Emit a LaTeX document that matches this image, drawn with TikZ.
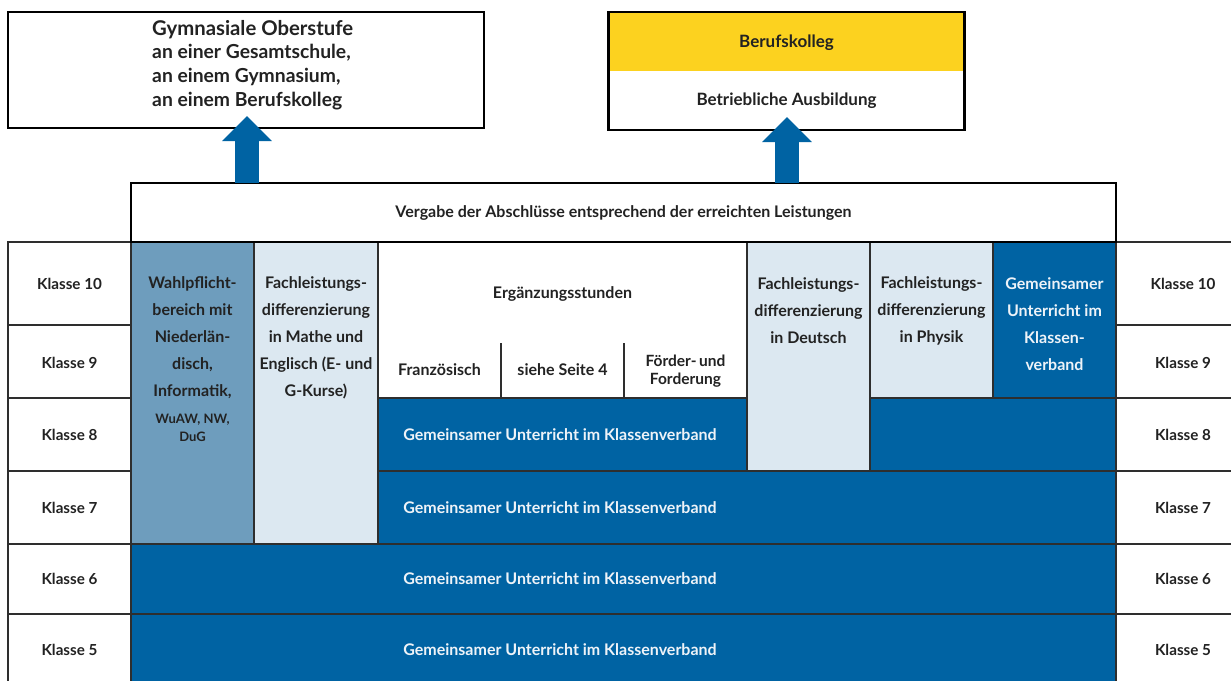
\documentclass[tikz,border=0pt]{standalone}
\usepackage{fontspec}
\setmainfont{Lato}
\usetikzlibrary{arrows.meta}
\definecolor{dblue}{HTML}{0063A3}
\definecolor{mblue}{HTML}{6E9DBD}
\definecolor{lblue}{HTML}{DCE8F1}
\definecolor{kyellow}{HTML}{FCD21F}
\definecolor{gridc}{HTML}{2E2E2E}
\definecolor{txtd}{HTML}{222222}
\definecolor{txtw}{HTML}{EEF3F8}
\begin{document}
\begin{tikzpicture}[x=1pt,y=-1pt,
  cell/.style={draw=gridc, line width=1.2pt, inner sep=0pt, rectangle},
  txt/.style={font=\bfseries\fontsize{16}{27}\selectfont, text=txtd, align=center, inner sep=0pt},
  ktxt/.style={txt, font=\bfseries\fontsize{15.2}{20}\selectfont},
  wtxt/.style={txt, text=txtw},
  thickbox/.style={draw=black, line width=2.4pt, inner sep=0pt, rectangle},
  bigarrow/.style={draw=dblue, line width=24pt, -{Triangle[length=25pt,width=48pt]}}]
\useasboundingbox (0,0) rectangle (1231,680);
\fill[white] (0,0) rectangle (1231,680);

% left label column
\node[cell, minimum width=123pt, minimum height=83pt] (l10) at (69.5,283.5) {};
\node[cell, minimum width=123pt, minimum height=73pt] (l9) at (69.5,361.5) {};
\node[cell, minimum width=123pt, minimum height=73pt] (l8) at (69.5,434.5) {};
\node[cell, minimum width=123pt, minimum height=73pt] (l7) at (69.5,507.5) {};
\node[cell, minimum width=123pt, minimum height=70pt] (l6) at (69.5,579) {};
\node[cell, minimum width=123pt, minimum height=72pt] (l5) at (69.5,650) {};
\node[ktxt] (tl10) at (69.5,284) {Klasse 10};
\node[ktxt] (tl9) at (69.5,362.5) {Klasse 9};
\node[ktxt] (tl8) at (69.5,434.5) {Klasse 8};
\node[ktxt] (tl7) at (69.5,507.5) {Klasse 7};
\node[ktxt] (tl6) at (69.5,579) {Klasse 6};
\node[ktxt] (tl5) at (69.5,650) {Klasse 5};

% right label column
\node[cell, minimum width=134pt, minimum height=83pt] (r10) at (1183,283.5) {};
\node[cell, minimum width=134pt, minimum height=73pt] (r9) at (1183,361.5) {};
\node[cell, minimum width=134pt, minimum height=73pt] (r8) at (1183,434.5) {};
\node[cell, minimum width=134pt, minimum height=73pt] (r7) at (1183,507.5) {};
\node[cell, minimum width=134pt, minimum height=70pt] (r6) at (1183,579) {};
\node[cell, minimum width=134pt, minimum height=72pt] (r5) at (1183,650) {};
\node[ktxt] (tr10) at (1183,284) {Klasse 10};
\node[ktxt] (tr9) at (1183,362.5) {Klasse 9};
\node[ktxt] (tr8) at (1183,434.5) {Klasse 8};
\node[ktxt] (tr7) at (1183,507.5) {Klasse 7};
\node[ktxt] (tr6) at (1183,579) {Klasse 6};
\node[ktxt] (tr5) at (1183,650) {Klasse 5};

% middle cells
\node[cell, fill=mblue, minimum width=123pt, minimum height=302pt] (wahl) at (192.5,393) {};
\node[cell, fill=lblue, minimum width=124pt, minimum height=302pt] (mathe) at (316,393) {};
\node[cell, fill=white, minimum width=369pt, minimum height=156pt] (erg) at (562.5,320) {};
\node[cell, fill=dblue, minimum width=369pt, minimum height=73pt] (g8) at (562.5,434.5) {};
\node[cell, fill=lblue, minimum width=123pt, minimum height=229pt] (deutsch) at (808.5,356.5) {};
\node[cell, fill=lblue, minimum width=123pt, minimum height=156pt] (physik) at (931.5,320) {};
\node[cell, fill=dblue, minimum width=123pt, minimum height=156pt] (gemr) at (1054.5,320) {};
\node[cell, fill=dblue, minimum width=246pt, minimum height=73pt] (g8r) at (993,434.5) {};
\node[cell, fill=dblue, minimum width=738pt, minimum height=73pt] (g7) at (747,507.5) {};
\node[cell, fill=dblue, minimum width=985pt, minimum height=70pt] (g6) at (623.5,579) {};
\node[cell, fill=dblue, minimum width=985pt, minimum height=72pt] (g5) at (623.5,650) {};

% dividers in Ergänzungsstunden
\draw[draw=gridc, line width=1.2pt] (501,343) -- (501,398);
\draw[draw=gridc, line width=1.2pt] (624,343) -- (624,398);

% texts
\node[txt] (twahl) at (192.5,338) {Wahlpflicht-\\bereich mit\\Niederlän-\\disch,\\Informatik,};
\node[txt, font=\bfseries\fontsize{13}{18}\selectfont] (twahl2) at (192.5,428) {WuAW, NW,\\DuG};
\node[txt] (tmathe) at (316,338) {Fachleistungs-\\differenzierung\\in Mathe und\\Englisch (E- und\\G-Kurse)};
\node[txt] (terg) at (562.5,294) {Ergänzungsstunden};
\node[txt] (tfr) at (439.5,369.5) {Französisch};
\node[txt] (tsi) at (562.5,369.5) {siehe Seite 4};
\node[txt, font=\bfseries\fontsize{15.5}{18}\selectfont] (tfo) at (685.5,371) {Förder-\,und\\Forderung};
\node[txt] (tdeu) at (808.5,311) {Fachleistungs-\\differenzierung\\in Deutsch};
\node[txt] (tphy) at (931.5,311) {Fachleistungs-\\differenzierung\\in Physik};
\node[wtxt] (tgemr) at (1054.5,324.5) {Gemeinsamer\\Unterricht im\\Klassen-\\verband};
\node[wtxt] (tg8) at (560,434.5) {Gemeinsamer Unterricht im Klassenverband};
\node[wtxt] (tg7) at (560,507.5) {Gemeinsamer Unterricht im Klassenverband};
\node[wtxt] (tg6) at (560,579) {Gemeinsamer Unterricht im Klassenverband};
\node[wtxt] (tg5) at (560,650) {Gemeinsamer Unterricht im Klassenverband};

% Vergabe box
\node[thickbox, fill=white, minimum width=985pt, minimum height=59pt] (verg) at (623.5,212.5) {};
\node[txt] (tverg) at (623.5,213) {Vergabe der Abschlüsse entsprechend der erreichten Leistungen};

% top left box
\node[thickbox, fill=white, minimum width=476pt, minimum height=116pt] (gym) at (246,70) {};
\node[txt, anchor=west, align=left, font=\bfseries\fontsize{19.3}{23.8}\selectfont] (tgym) at (152,65)
  {{\fontsize{20.3}{23.8}\selectfont Gymnasiale Oberstufe}\\an einer Gesamtschule,\\an einem Gymnasium,\\an einem Berufskolleg};

% top right box
\node[fill=kyellow, inner sep=0pt, minimum width=356pt, minimum height=59pt] (bkband) at (786.5,41.5) {};
\node[thickbox, minimum width=356pt, minimum height=118pt] (bk) at (786.5,71) {};
\node[txt, font=\bfseries\fontsize{17}{20}\selectfont] (tbk) at (786.5,43) {Berufskolleg};
\node[txt, font=\bfseries\fontsize{17}{20}\selectfont] (tba) at (786.5,101) {Betriebliche Ausbildung};

% arrows
\coordinate (a1s) at (247,183);
\coordinate (a1e) at (247,116);
\coordinate (a2s) at (787,183);
\coordinate (a2e) at (787,117);
\draw[bigarrow] (a1s) -- (a1e);
\draw[bigarrow] (a2s) -- (a2e);
\end{tikzpicture}
\end{document}
